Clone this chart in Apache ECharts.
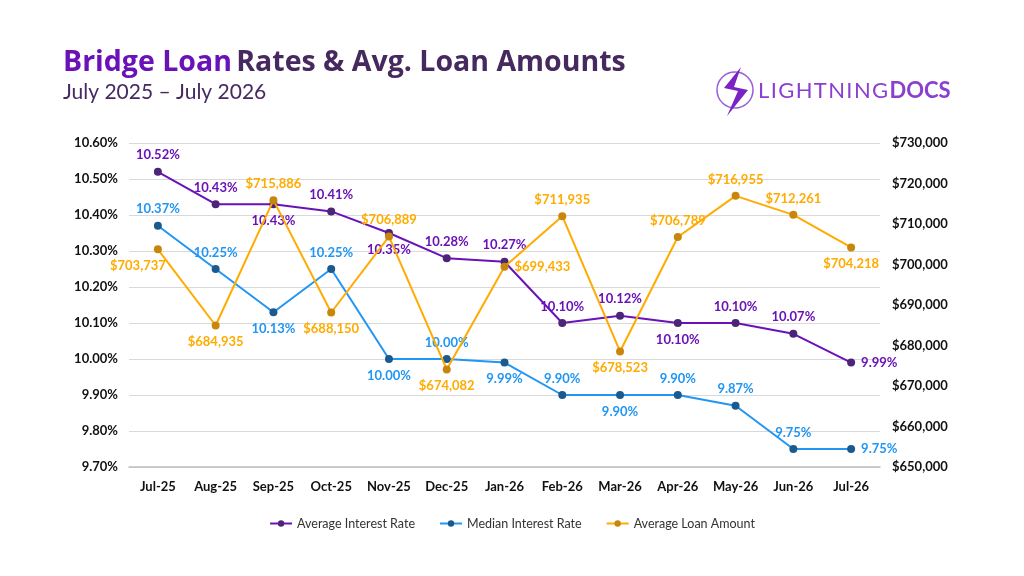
<!DOCTYPE html>
<html>
<head>
<meta charset="utf-8">
<script src="https://cdn.jsdelivr.net/npm/echarts@6/dist/echarts.min.js"></script>
<style>
html, body { margin: 0; padding: 0; background: #fff; }
#chart { width: 1024px; height: 576px; }
</style>
</head>
<body>
<div id="chart"></div>
<script>
var months = ['Jul-25','Aug-25','Sep-25','Oct-25','Nov-25','Dec-25','Jan-26','Feb-26','Mar-26','Apr-26','May-26','Jun-26','Jul-26'];
var avgRate = [10.52,10.43,10.43,10.41,10.35,10.28,10.27,10.10,10.12,10.10,10.10,10.07,9.99];
var medianRate = [10.37,10.25,10.13,10.25,10.00,10.00,9.99,9.90,9.90,9.90,9.87,9.75,9.75];
var avgLoan = [703737,684935,715886,688150,706889,674082,699433,711935,678523,706789,716955,712261,704218];
// where each value label sits
var avgPos = ['top','top','bottom','top','bottom','top','top','top','top','bottom','top','top','right'];
var medPos = ['top','top','bottom','top','bottom','top','bottom','top','bottom','top','top','top','right'];
var loanPos = ['bottom','bottom','top','bottom','top','bottom','right','top','bottom','top','top','top','bottom'];

var FONT = 'Lato, "Open Sans", sans-serif';

function withLabels(vals, pos, offsets) {
	return vals.map(function(v, i) {
		var lab = { position: pos[i] };
		if (offsets && offsets[i]) {
			lab.offset = offsets[i];
		}
		return { value: v, label: lab };
	});
}

function money(v) {
	return '$' + Math.round(v).toLocaleString('en-US');
}

var chart = echarts.init(document.getElementById('chart'));
var option = {
	backgroundColor: '#ffffff',
	animation: false,
	textStyle: { fontFamily: FONT },
	title: {
		left: 58,
		top: 43,
		text: '{a|Bridge Loan} {b|Rates & Avg. Loan Amounts}',
		subtext: 'July 2025 \u2013 July 2026',
		itemGap: 5,
		textStyle: {
			rich: {
				a: { fontSize: 28.5, fontWeight: 'bold', color: '#6a12b8', fontFamily: '"Open Sans", sans-serif' },
				b: { fontSize: 28.5, fontWeight: 'bold', color: '#46295f', fontFamily: '"Open Sans", sans-serif' }
			}
		},
		subtextStyle: { fontSize: 21, color: '#46295f', fontFamily: FONT }
	},
	graphic: [
		{
			type: 'circle',
			shape: { cx: 735, cy: 90, r: 18 },
			style: { fill: 'none', stroke: '#9a5fd8', lineWidth: 1.5 }
		},
		{
			type: 'polygon',
			shape: { points: [[741, 67], [724, 88], [738, 91], [727, 116], [748, 90], [734, 87]] },
			style: { fill: '#7a22c4' }
		},
		{
			type: 'text',
			left: 758, top: 80,
			style: {
				text: '{n|L\u200AI\u200AG\u200AH\u200AT\u200AN\u200AI\u200AN\u200AG\u200A}{d|DOCS}',
				rich: {
					n: { fontSize: 22, fill: '#8a3fd0', fontFamily: FONT },
					d: { fontSize: 22, fontWeight: 'bold', fill: '#8a3fd0', fontFamily: FONT }
				}
			}
		}
	],
	legend: {
		bottom: 41,
		left: 'center',
		itemGap: 24,
		itemWidth: 22,
		itemHeight: 8,
		textStyle: { fontSize: 12.5, color: '#333', fontFamily: FONT },
		data: ['Average Interest Rate', 'Median Interest Rate', 'Average Loan Amount']
	},
	grid: { left: 129, right: 144, top: 143, bottom: 109, containLabel: false },
	xAxis: {
		type: 'category',
		data: months,
		axisLine: { lineStyle: { color: '#bfbfbf', width: 1.5 } },
		axisTick: { show: false },
		axisLabel: { interval: 0, color: '#111', fontWeight: 'bold', fontSize: 13, margin: 13, fontFamily: FONT }
	},
	yAxis: [
		{
			type: 'value',
			min: 9.7,
			max: 10.6,
			interval: 0.1,
			axisLine: { show: false },
			axisTick: { show: false },
			splitLine: { lineStyle: { color: '#d9d9d9', width: 1 } },
			axisLabel: {
				color: '#111', fontWeight: 'bold', fontSize: 13, margin: 11, fontFamily: FONT,
				formatter: function(v) { return v.toFixed(2) + '%'; }
			}
		},
		{
			type: 'value',
			min: 650000,
			max: 730000,
			interval: 10000,
			axisLine: { show: false },
			axisTick: { show: false },
			splitLine: { show: false },
			axisLabel: {
				color: '#111', fontWeight: 'bold', fontSize: 13, margin: 12, fontFamily: FONT,
				formatter: money
			}
		}
	],
	series: [
		{
			name: 'Average Interest Rate',
			type: 'line',
			yAxisIndex: 0,
			symbol: 'circle',
			symbolSize: 8,
			z: 3,
			lineStyle: { color: '#6a12b8', width: 2 },
			itemStyle: { color: '#4d2578' },
			label: {
				show: true, color: '#6a12b8', fontWeight: 'bold', fontSize: 13, distance: 6,
				fontFamily: FONT,
				formatter: function(p) { return p.value.toFixed(2) + '%'; }
			},
			data: withLabels(avgRate, avgPos)
		},
		{
			name: 'Median Interest Rate',
			type: 'line',
			yAxisIndex: 0,
			symbol: 'circle',
			symbolSize: 8,
			z: 2,
			lineStyle: { color: '#2196f3', width: 2 },
			itemStyle: { color: '#1a5a8e' },
			label: {
				show: true, color: '#2196f3', fontWeight: 'bold', fontSize: 13, distance: 6,
				fontFamily: FONT,
				formatter: function(p) { return p.value.toFixed(2) + '%'; }
			},
			data: withLabels(medianRate, medPos)
		},
		{
			name: 'Average Loan Amount',
			type: 'line',
			yAxisIndex: 1,
			symbol: 'circle',
			symbolSize: 8,
			z: 4,
			lineStyle: { color: '#ffab00', width: 2 },
			itemStyle: { color: '#c8870c' },
			label: {
				show: true, color: '#ffab00', fontWeight: 'bold', fontSize: 13, distance: 6,
				fontFamily: FONT,
				formatter: function(p) { return money(p.value); }
			},
			data: withLabels(avgLoan, loanPos, { 0: [-20, 0] })
		}
	]
};
chart.setOption(option);
</script>
</body>
</html>
